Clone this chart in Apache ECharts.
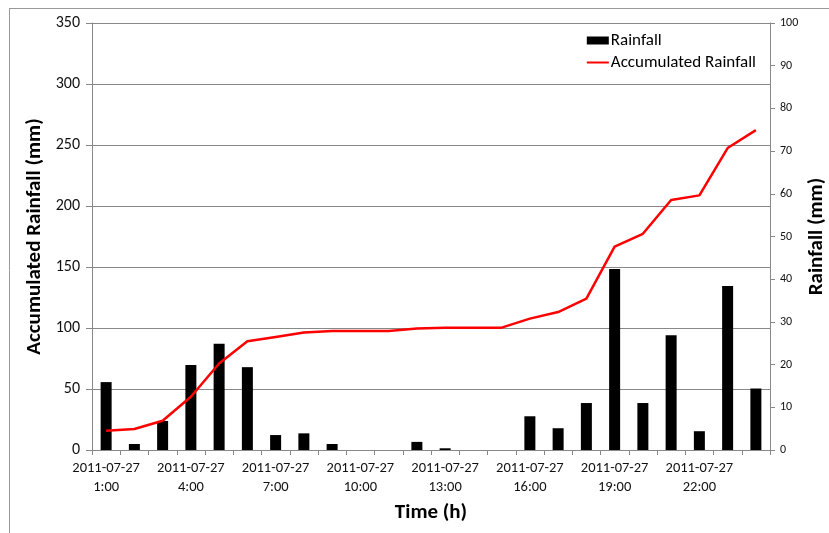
<!DOCTYPE html>
<html>
<head>
<meta charset="utf-8">
<script src="https://cdn.jsdelivr.net/npm/echarts@6/dist/echarts.min.js"></script>
<style>html,body{margin:0;padding:0;background:#fff;}#c{width:829px;height:533px;}</style>
</head>
<body>
<div id="c"></div>
<script>
const categories = ['1:00','2:00','3:00','4:00','5:00','6:00','7:00','8:00','9:00','10:00','11:00','12:00',
  '13:00','14:00','15:00','16:00','17:00','18:00','19:00','20:00','21:00','22:00','23:00','24:00'];
const datePrefix = '2011-07-27';
const rainfall = [15.9, 1.4, 6.8, 19.9, 24.9, 19.4, 3.5, 3.9, 1.4, 0, 0, 1.9,
  0.4, 0, 0, 7.9, 5.1, 11, 42.4, 11, 26.9, 4.4, 38.4, 14.4];
const accumulated = [15.8, 17.2, 24, 43.6, 70.9, 89.1, 92.7, 96.3, 97.6, 97.6, 97.6, 99.5,
  100.3, 100.3, 100.3, 107.7, 113.1, 124, 166.7, 177.2, 204.9, 208.7, 247.5, 262.2];
const leftTicks = {min: 0, max: 350, interval: 50};
const rightTicks = {min: 0, max: 100, interval: 10};

const chart = echarts.init(document.getElementById('c'), null, {renderer: 'canvas'});
const font = 'Calibri, "Liberation Sans", "Open Sans", sans-serif';
chart.setOption({
  animation: false,
  backgroundColor: '#fff',
  grid: {left: 92, right: 59, top: 23, bottom: 83, containLabel: false, outerBoundsMode: 'none'},
  legend: {
    right: 68, top: 27, orient: 'vertical', itemGap: 5,
    itemWidth: 22, itemHeight: 8,
    textStyle: {fontSize: 17, color: '#000', fontFamily: font, padding: [0, 0, 0, -3]},
    data: [
      {name: 'Rainfall', icon: 'rect'},
      {name: 'Accumulated Rainfall', itemStyle: {opacity: 0}}
    ]
  },
  graphic: [
    {type: 'line', shape: {x1: 9, y1: 8.5, x2: 829, y2: 8.5}, style: {stroke: '#999', lineWidth: 1}},
    {type: 'line', shape: {x1: 9.5, y1: 8, x2: 9.5, y2: 533}, style: {stroke: '#999', lineWidth: 1}}
  ],
  xAxis: {
    type: 'category', data: categories,
    name: 'Time (h)', nameLocation: 'middle', nameGap: 52,
    nameTextStyle: {fontSize: 21, fontWeight: 'bold', color: '#000', fontFamily: font},
    axisLine: {lineStyle: {color: '#888'}},
    axisTick: {show: true, alignWithLabel: false, interval: 0, length: 5, lineStyle: {color: '#888'}},
    axisLabel: {
      interval: 2, fontSize: 14.5, color: '#111', fontFamily: font, lineHeight: 19, margin: 9,
      formatter: v => datePrefix + '\n' + v
    }
  },
  yAxis: [
    {
      type: 'value', min: leftTicks.min, max: leftTicks.max, interval: leftTicks.interval,
      name: 'Accumulated Rainfall (mm)', nameLocation: 'middle', nameGap: 43, nameRotate: 90,
      nameTextStyle: {fontSize: 21, fontWeight: 'bold', color: '#000', fontFamily: font},
      axisLine: {show: true, lineStyle: {color: '#888'}},
      axisTick: {show: true, length: 6, lineStyle: {color: '#888'}},
      axisLabel: {fontSize: 16, color: '#111', fontFamily: font, margin: 12},
      splitLine: {show: true, lineStyle: {color: '#888', width: 1}}
    },
    {
      type: 'value', min: rightTicks.min, max: rightTicks.max, interval: rightTicks.interval,
      position: 'right',
      name: 'Rainfall (mm)', nameLocation: 'middle', nameGap: 36, nameRotate: 90,
      nameMoveOverlap: false,
      nameTextStyle: {fontSize: 21, fontWeight: 'bold', color: '#000', fontFamily: font},
      axisLine: {show: true, lineStyle: {color: '#888'}},
      axisTick: {show: true, length: 5, lineStyle: {color: '#888'}},
      axisLabel: {fontSize: 12, color: '#111', fontFamily: font, margin: 10},
      splitLine: {show: false}
    }
  ],
  series: [
    {
      name: 'Rainfall', type: 'bar', yAxisIndex: 1, data: rainfall,
      barWidth: 11, itemStyle: {color: '#000'}
    },
    {
      name: 'Accumulated Rainfall', type: 'line', yAxisIndex: 0, data: accumulated,
      symbol: 'none', lineStyle: {color: '#ff0000', width: 2.5}, itemStyle: {color: '#ff0000'}
    }
  ]
});
</script>
</body>
</html>
